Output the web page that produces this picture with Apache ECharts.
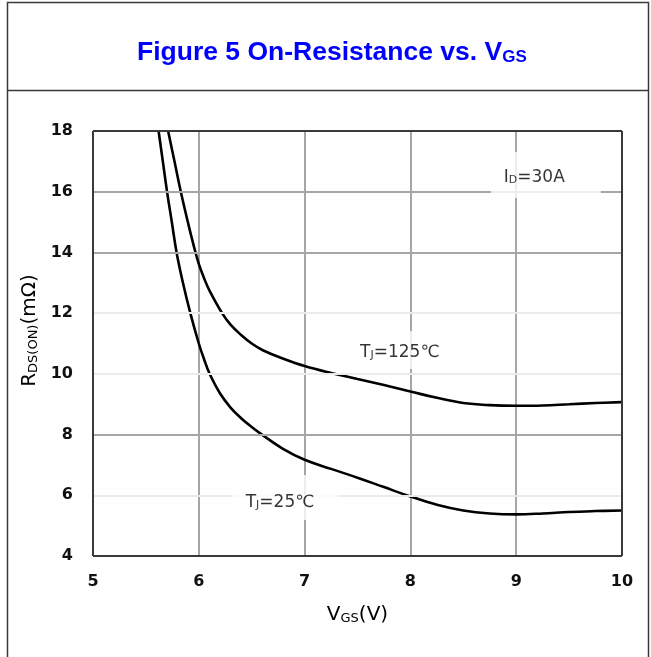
<!DOCTYPE html>
<html><head><meta charset="utf-8">
<script src="https://cdn.jsdelivr.net/npm/echarts@6/dist/echarts.min.js"></script>
<style>html,body{margin:0;padding:0;background:#fff}#c{width:651px;height:657px}</style>
</head><body><div id="c"></div>
<script>
// --- data ---
const vgs125 = [5.71,5.77,5.83,5.90,5.95,6.00,6.05,6.10,6.22,6.30,6.40,6.50,6.61,6.80,7.00,7.25,7.50,7.75,8.00,8.25,8.50,8.75,9.00,9.25,9.50,9.75,10.00];
const rds125 = [18,17,16,14.95,14.25,13.62,13.15,12.75,12.0,11.62,11.28,11.0,10.77,10.5,10.26,10.03,9.83,9.63,9.42,9.21,9.04,8.97,8.95,8.96,9.00,9.04,9.07];
const vgs25 = [5.62,5.66,5.70,5.745,5.79,5.85,5.92,6.00,6.05,6.10,6.20,6.30,6.40,6.50,6.58,6.80,7.00,7.25,7.50,7.75,8.00,8.25,8.50,8.75,9.00,9.25,9.50,9.75,10.00];
const rds25 = [18,17,16,15,14,13,12,11.0,10.48,10.02,9.36,8.89,8.54,8.25,8.04,7.52,7.17,6.87,6.58,6.27,5.96,5.69,5.50,5.40,5.37,5.40,5.45,5.48,5.50];
const xMin = 5, xMax = 10, xStep = 1;
const yMin = 4, yMax = 18, yStep = 2;
const faintGridY = [6, 10, 12];
const darkGridY = [8, 14, 16];
const labelTexts = ['{t|I}{s|D}{t|=30A}', '{t|T}{s|J}{t|=125℃}', '{t|T}{s|J}{t|=25℃}'];
const labelAnchorsV = [9.28, 7.90, 6.815];
const labelAnchorsR = [16.55, 10.79, 5.93];

const chart = echarts.init(document.getElementById('c'), null, {renderer: 'canvas'});
const zip = (a, b) => a.map((v, i) => [v, b[i]]);
const smallRich = {
  t: {fontFamily: 'DejaVu Sans', fontSize: 17, color: '#000', lineHeight: 22, verticalAlign: 'bottom'},
  s: {fontFamily: 'DejaVu Sans', fontSize: 11, color: '#000', lineHeight: 14, verticalAlign: 'bottom'}
};
const nameRich = {
  t: {fontFamily: 'DejaVu Sans', fontSize: 20, color: '#000', lineHeight: 25, verticalAlign: 'bottom'},
  s: {fontFamily: 'DejaVu Sans', fontSize: 13, color: '#000', lineHeight: 17, verticalAlign: 'bottom'}
};
const labelPads = [[12, 36, 12, 13], [8, 10, 8, 10], [14, 23, 9, 13]];
const borderStyle = {color: '#3a3a3a', width: 2, type: 'solid'};

chart.setOption({
  animation: false,
  backgroundColor: '#ffffff',
  title: {
    text: '{a|Figure 5 On-Resistance vs. V}{b|GS}',
    left: 132,
    top: 29,
    textStyle: {
      rich: {
        a: {fontFamily: 'Liberation Sans', fontWeight: 'bold', fontSize: 26.5, color: '#0000ff', lineHeight: 32, verticalAlign: 'bottom'},
        b: {fontFamily: 'Liberation Sans', fontWeight: 'bold', fontSize: 17, color: '#0000ff', lineHeight: 20, verticalAlign: 'bottom'}
      }
    }
  },
  graphic: [
    {type: 'rect', shape: {x: 7.5, y: 2.5, width: 641, height: 700}, style: {fill: 'none', stroke: '#3a3a3a', lineWidth: 1.5}, silent: true},
    {type: 'line', shape: {x1: 7.5, y1: 90.5, x2: 648.5, y2: 90.5}, style: {stroke: '#3a3a3a', lineWidth: 1.5}, silent: true}
  ],
  grid: {left: 93, top: 131, width: 529, height: 425},
  xAxis: {
    type: 'value', min: xMin, max: xMax, interval: xStep,
    axisLine: {show: false}, axisTick: {show: false},
    axisLabel: {fontFamily: 'DejaVu Sans', fontWeight: 'bold', fontSize: 16, color: '#111', margin: 18},
    splitLine: {show: true, lineStyle: {color: '#a6a6a6', width: 2}},
    name: '{t|V}{s|GS}{t|(V)}', nameLocation: 'middle', nameGap: 44,
    nameTextStyle: {rich: nameRich}
  },
  yAxis: {
    type: 'value', min: yMin, max: yMax, interval: yStep,
    axisLine: {show: false}, axisTick: {show: false},
    axisLabel: {fontFamily: 'DejaVu Sans', fontWeight: 'bold', fontSize: 16, color: '#111', margin: 20},
    splitLine: {show: false},
    name: '{t|R}{s|DS(ON)}{t|(mΩ)}', nameLocation: 'middle', nameGap: 38,
    nameTextStyle: {rich: nameRich, padding: [0, 0, 0, 26]}
  },
  series: [
    {
      type: 'line', data: [], silent: true, z: 1,
      markLine: {
        silent: true, symbol: ['none', 'none'], label: {show: false}, animation: false,
        data: faintGridY.map(v => ({yAxis: v, lineStyle: {color: '#ebebeb', width: 2, type: 'solid'}}))
          .concat(darkGridY.map(v => ({yAxis: v, lineStyle: {color: '#a6a6a6', width: 2, type: 'solid'}})))
      }
    },
    {
      type: 'line', data: zip(vgs125, rds125), smooth: 0.4, symbol: 'none', z: 3,
      lineStyle: {color: '#000', width: 2.6}
    },
    {
      type: 'line', data: zip(vgs25, rds25), smooth: 0.4, symbol: 'none', z: 3,
      lineStyle: {color: '#000', width: 2.6}
    },
    {
      type: 'scatter', symbolSize: 0, z: 8, silent: true,
      data: labelTexts.map((t, i) => ({
        value: [labelAnchorsV[i], labelAnchorsR[i]],
        label: {show: true, position: 'inside', formatter: t, rich: smallRich, backgroundColor: '#ffffff', padding: labelPads[i]}
      }))
    },
    {
      type: 'line', data: [], silent: true, z: 9,
      markLine: {
        silent: true, symbol: ['none', 'none'], label: {show: false}, animation: false,
        data: [{yAxis: yMin, lineStyle: borderStyle}, {yAxis: yMax, lineStyle: borderStyle},
               {xAxis: xMin, lineStyle: borderStyle}, {xAxis: xMax, lineStyle: borderStyle}]
      }
    }
  ]
});
</script>
</body></html>
